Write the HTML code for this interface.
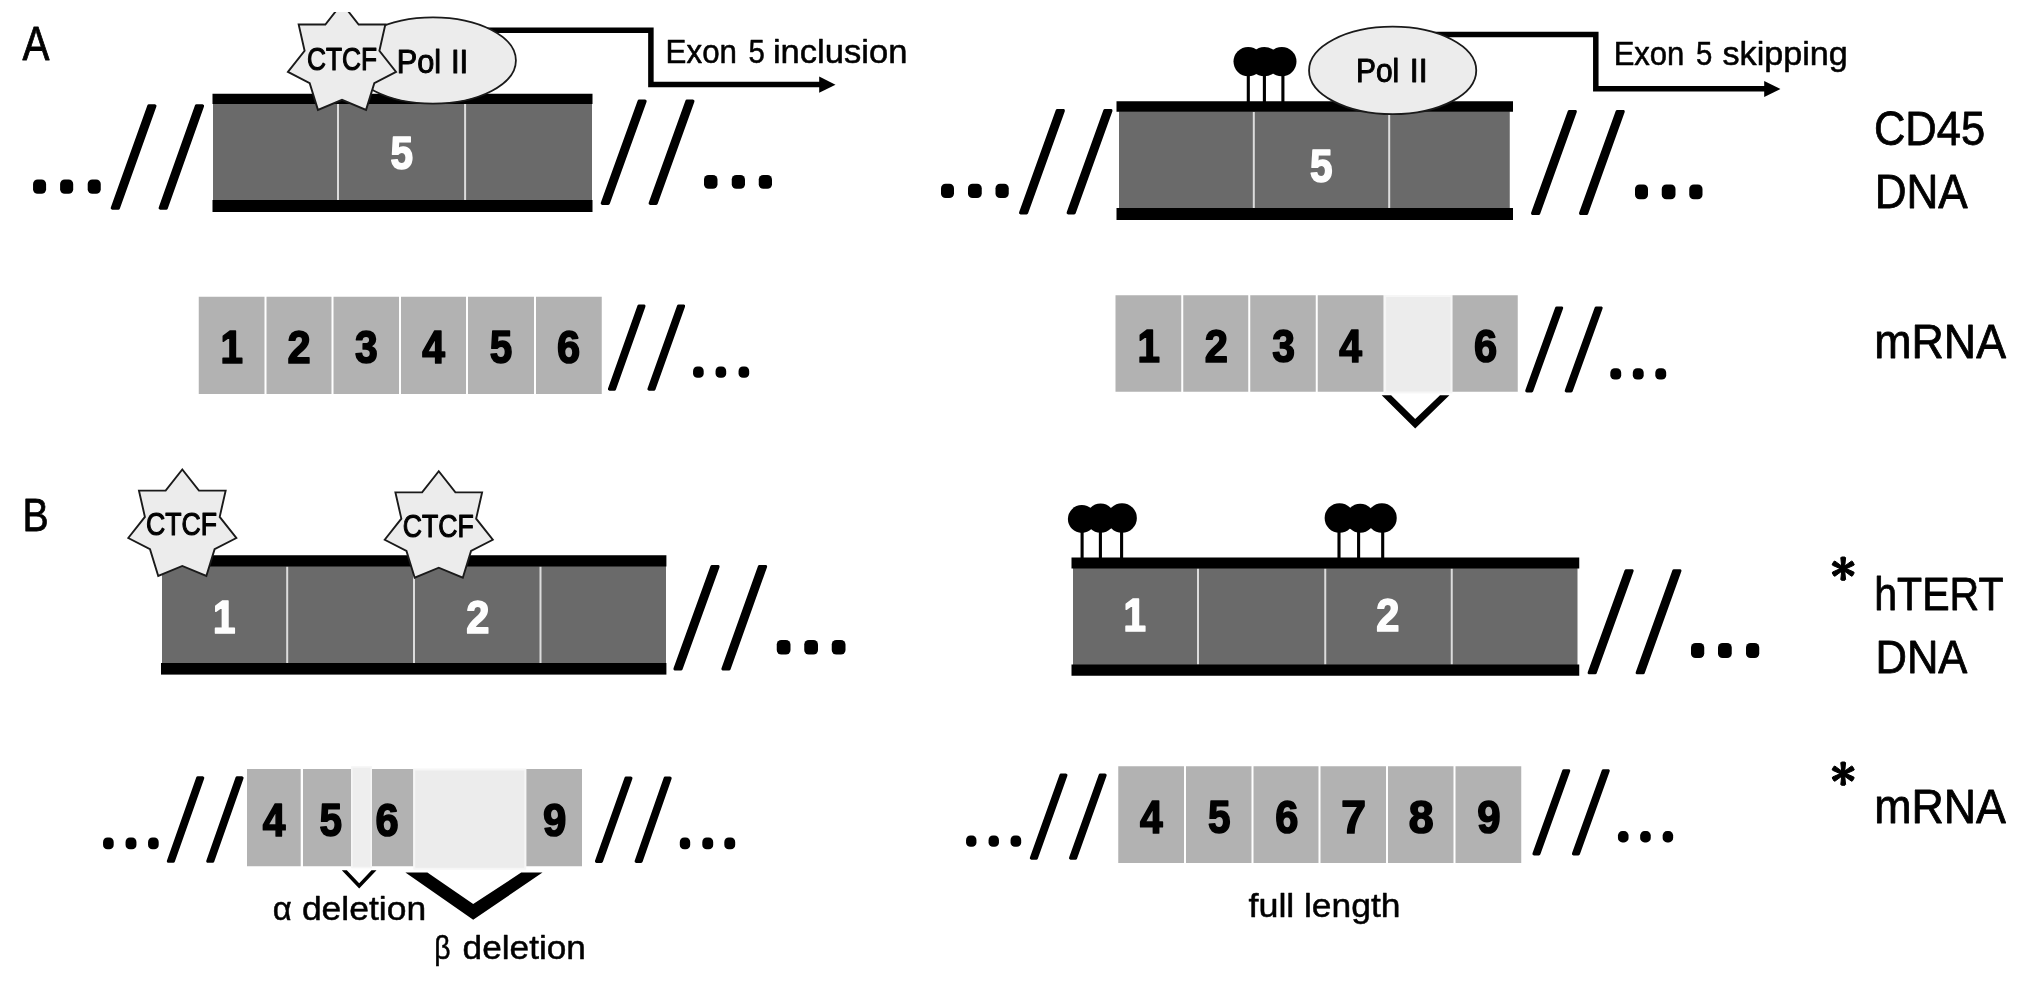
<!DOCTYPE html>
<html><head><meta charset="utf-8"><title>Figure</title>
<style>
html,body{margin:0;padding:0;background:#fff;}
svg{display:block;font-family:'Liberation Sans', sans-serif;}
</style></head><body>
<svg width="2031" height="983" viewBox="0 0 2031 983" font-family="'Liberation Sans', sans-serif">
<rect x="0" y="0" width="2031" height="983" fill="#fff"/>
<rect x="213.00" y="103.50" width="379.00" height="97.00" fill="#6a6a6a" />
<rect x="337.00" y="104.00" width="2.00" height="96.00" fill="#dcdcdc" />
<rect x="464.10" y="104.00" width="2.00" height="96.00" fill="#dcdcdc" />
<rect x="212.50" y="93.75" width="380.00" height="10.25" fill="#000" />
<rect x="212.50" y="200.00" width="380.00" height="12.00" fill="#000" />
<polygon points="112.30,208.10 118.30,208.10 154.90,105.90 148.90,105.90" fill="#000" stroke="#000" stroke-width="3.2" stroke-linejoin="round"/>
<polygon points="160.20,208.10 166.20,208.10 202.50,105.90 196.50,105.90" fill="#000" stroke="#000" stroke-width="3.2" stroke-linejoin="round"/>
<polygon points="602.30,203.30 608.30,203.30 645.10,101.20 639.10,101.20" fill="#000" stroke="#000" stroke-width="3.2" stroke-linejoin="round"/>
<polygon points="650.20,203.30 656.20,203.30 692.90,101.20 686.90,101.20" fill="#000" stroke="#000" stroke-width="3.2" stroke-linejoin="round"/>
<rect x="33.05" y="179.50" width="13.05" height="14.30" rx="4.6" ry="4.6" fill="#000"/>
<rect x="60.10" y="179.50" width="13.10" height="14.30" rx="4.6" ry="4.6" fill="#000"/>
<rect x="87.70" y="179.50" width="13.05" height="14.30" rx="4.6" ry="4.6" fill="#000"/>
<rect x="704.00" y="175.00" width="13.50" height="13.75" rx="4.6" ry="4.6" fill="#000"/>
<rect x="731.75" y="175.00" width="13.25" height="13.75" rx="4.6" ry="4.6" fill="#000"/>
<rect x="758.75" y="175.00" width="13.25" height="13.75" rx="4.6" ry="4.6" fill="#000"/>
<path d="M470 30.3 H650.9 V84.5 H822" fill="none" stroke="#000" stroke-width="5.5" stroke-linejoin="miter"/>
<polygon points="819.20,76.60 835.50,84.65 819.20,92.70" fill="#000"/>
<ellipse cx="433" cy="60.45" rx="82.9" ry="43.15" fill="#ececec" stroke="#1a1a1a" stroke-width="1.8"/>
<clipPath id="cA"><rect x="0" y="12" width="2031" height="971"/></clipPath>
<polygon points="287.95,71.89 304.60,50.80 298.66,24.49 325.35,24.49 342.00,3.40 358.65,24.49 385.34,24.49 379.40,50.80 396.05,71.89 374.30,83.10 366.05,109.90 342.00,99.89 317.95,109.90 309.70,83.10" fill="#ececec" stroke="#1a1a1a" stroke-width="1.9" stroke-linejoin="miter" clip-path="url(#cA)"/>
<rect x="198.75" y="296.75" width="403.00" height="97.25" fill="#b2b2b2" />
<rect x="264.50" y="296.00" width="2.00" height="99.00" fill="#fff" />
<rect x="331.50" y="296.00" width="2.00" height="99.00" fill="#fff" />
<rect x="399.00" y="296.00" width="2.00" height="99.00" fill="#fff" />
<rect x="466.00" y="296.00" width="2.00" height="99.00" fill="#fff" />
<rect x="534.00" y="296.00" width="2.00" height="99.00" fill="#fff" />
<polygon points="609.50,389.10 614.40,389.10 643.90,306.10 639.00,306.10" fill="#000" stroke="#000" stroke-width="3.2" stroke-linejoin="round"/>
<polygon points="649.00,389.10 653.90,389.10 683.50,306.10 678.60,306.10" fill="#000" stroke="#000" stroke-width="3.2" stroke-linejoin="round"/>
<rect x="693.05" y="366.50" width="10.65" height="11.30" rx="4.4" ry="4.4" fill="#000"/>
<rect x="715.55" y="366.50" width="10.65" height="11.30" rx="4.4" ry="4.4" fill="#000"/>
<rect x="738.55" y="366.50" width="10.65" height="11.30" rx="4.4" ry="4.4" fill="#000"/>
<rect x="1119.00" y="111.25" width="390.75" height="97.25" fill="#6a6a6a" />
<rect x="1252.80" y="111.75" width="2.00" height="96.25" fill="#dcdcdc" />
<rect x="1388.20" y="111.75" width="2.00" height="96.25" fill="#dcdcdc" />
<rect x="1116.50" y="101.25" width="396.50" height="10.50" fill="#000" />
<rect x="1116.50" y="208.00" width="396.50" height="12.00" fill="#000" />
<polygon points="1020.60,212.80 1026.60,212.80 1063.30,110.60 1057.30,110.60" fill="#000" stroke="#000" stroke-width="3.2" stroke-linejoin="round"/>
<polygon points="1068.20,212.80 1074.20,212.80 1110.90,110.60 1104.90,110.60" fill="#000" stroke="#000" stroke-width="3.2" stroke-linejoin="round"/>
<polygon points="1532.60,213.40 1538.60,213.40 1575.30,111.50 1569.30,111.50" fill="#000" stroke="#000" stroke-width="3.2" stroke-linejoin="round"/>
<polygon points="1580.60,213.40 1586.60,213.40 1623.20,111.50 1617.20,111.50" fill="#000" stroke="#000" stroke-width="3.2" stroke-linejoin="round"/>
<rect x="941.00" y="183.75" width="13.00" height="14.25" rx="4.6" ry="4.6" fill="#000"/>
<rect x="968.00" y="183.75" width="13.75" height="14.25" rx="4.6" ry="4.6" fill="#000"/>
<rect x="995.50" y="183.75" width="13.25" height="14.25" rx="4.6" ry="4.6" fill="#000"/>
<rect x="1635.00" y="184.50" width="13.00" height="14.75" rx="4.6" ry="4.6" fill="#000"/>
<rect x="1661.75" y="184.50" width="13.75" height="14.75" rx="4.6" ry="4.6" fill="#000"/>
<rect x="1689.25" y="184.50" width="13.25" height="14.75" rx="4.6" ry="4.6" fill="#000"/>
<rect x="1246.75" y="61.60" width="3.1" height="41.40" fill="#000"/>
<rect x="1262.85" y="61.60" width="3.1" height="41.40" fill="#000"/>
<rect x="1281.35" y="61.60" width="3.1" height="41.40" fill="#000"/>
<circle cx="1248.20" cy="61.60" r="14.7" fill="#000"/>
<circle cx="1264.40" cy="61.60" r="14.7" fill="#000"/>
<circle cx="1281.80" cy="61.60" r="14.7" fill="#000"/>
<path d="M1430 34.4 H1595.8 V88.8 H1766" fill="none" stroke="#000" stroke-width="5.5" stroke-linejoin="miter"/>
<polygon points="1764.20,81.00 1780.40,89.00 1764.20,97.10" fill="#000"/>
<ellipse cx="1392.65" cy="70.45" rx="83.6" ry="43.75" fill="#ececec" stroke="#1a1a1a" stroke-width="1.8"/>
<rect x="1115.50" y="295.25" width="268.00" height="96.50" fill="#b2b2b2" />
<rect x="1452.25" y="295.25" width="65.50" height="96.50" fill="#b2b2b2" />
<rect x="1181.25" y="294.50" width="2.00" height="98.00" fill="#fff" />
<rect x="1248.25" y="294.50" width="2.00" height="98.00" fill="#fff" />
<rect x="1315.75" y="294.50" width="2.00" height="98.00" fill="#fff" />
<rect x="1385.20" y="296.00" width="66.20" height="96.40" fill="#ececec" stroke="#f6f6f6" stroke-width="2"/>
<polygon points="1381.70,395.30 1415.20,428.50 1449.40,395.30 1440.00,395.30 1415.20,419.10 1391.10,395.30" fill="#000"/>
<polygon points="1526.80,390.80 1531.70,390.80 1561.60,308.00 1556.70,308.00" fill="#000" stroke="#000" stroke-width="3.2" stroke-linejoin="round"/>
<polygon points="1566.30,390.80 1571.20,390.80 1601.10,308.00 1596.20,308.00" fill="#000" stroke="#000" stroke-width="3.2" stroke-linejoin="round"/>
<rect x="1610.30" y="368.25" width="10.90" height="11.30" rx="4.4" ry="4.4" fill="#000"/>
<rect x="1632.80" y="368.25" width="10.90" height="11.30" rx="4.4" ry="4.4" fill="#000"/>
<rect x="1655.30" y="368.25" width="10.90" height="11.30" rx="4.4" ry="4.4" fill="#000"/>
<rect x="162.00" y="566.00" width="504.00" height="97.50" fill="#6a6a6a" />
<rect x="286.20" y="566.50" width="2.00" height="96.50" fill="#dcdcdc" />
<rect x="413.00" y="566.50" width="2.00" height="96.50" fill="#dcdcdc" />
<rect x="539.50" y="566.50" width="2.00" height="96.50" fill="#dcdcdc" />
<rect x="161.00" y="555.25" width="505.40" height="11.25" fill="#000" />
<rect x="161.00" y="663.00" width="505.40" height="11.60" fill="#000" />
<polygon points="128.25,537.99 144.90,516.90 138.96,490.59 165.65,490.59 182.30,469.50 198.95,490.59 225.64,490.59 219.70,516.90 236.35,537.99 214.60,549.20 206.35,576.00 182.30,565.99 158.25,576.00 150.00,549.20" fill="#ececec" stroke="#1a1a1a" stroke-width="1.9" stroke-linejoin="miter"/>
<polygon points="384.70,539.74 401.35,518.65 395.41,492.34 422.10,492.34 438.75,471.25 455.40,492.34 482.09,492.34 476.15,518.65 492.80,539.74 471.05,550.95 462.80,577.75 438.75,567.74 414.70,577.75 406.45,550.95" fill="#ececec" stroke="#1a1a1a" stroke-width="1.9" stroke-linejoin="miter"/>
<polygon points="675.00,668.90 681.00,668.90 718.00,566.60 712.00,566.60" fill="#000" stroke="#000" stroke-width="3.2" stroke-linejoin="round"/>
<polygon points="723.00,668.90 729.00,668.90 765.50,566.60 759.50,566.60" fill="#000" stroke="#000" stroke-width="3.2" stroke-linejoin="round"/>
<rect x="776.75" y="640.00" width="13.75" height="14.50" rx="4.6" ry="4.6" fill="#000"/>
<rect x="804.25" y="640.00" width="13.75" height="14.50" rx="4.6" ry="4.6" fill="#000"/>
<rect x="831.75" y="640.00" width="13.75" height="14.50" rx="4.6" ry="4.6" fill="#000"/>
<rect x="247.00" y="769.00" width="53.70" height="97.25" fill="#b2b2b2" />
<rect x="303.00" y="769.00" width="48.00" height="97.25" fill="#b2b2b2" />
<rect x="371.80" y="769.00" width="41.50" height="97.25" fill="#b2b2b2" />
<rect x="526.25" y="769.00" width="55.75" height="97.25" fill="#b2b2b2" />
<rect x="351.90" y="767.00" width="19.30" height="100.50" fill="#eeeeee" stroke="#f6f6f6" stroke-width="1.6"/>
<rect x="414.30" y="769.50" width="110.90" height="99.20" fill="#ececec" stroke="#f6f6f6" stroke-width="2"/>
<polygon points="341.80,870.30 359.20,888.50 376.50,870.30 371.50,870.30 359.20,883.30 346.80,870.30" fill="#000"/>
<polygon points="405.40,872.55 473.20,919.70 542.50,872.55 521.20,872.55 473.20,904.00 427.40,872.55" fill="#000"/>
<polygon points="168.40,861.20 173.30,861.20 202.70,777.90 197.80,777.90" fill="#000" stroke="#000" stroke-width="3.2" stroke-linejoin="round"/>
<polygon points="207.80,861.20 212.70,861.20 242.00,777.90 237.10,777.90" fill="#000" stroke="#000" stroke-width="3.2" stroke-linejoin="round"/>
<polygon points="596.50,861.30 601.40,861.30 630.90,778.20 626.00,778.20" fill="#000" stroke="#000" stroke-width="3.2" stroke-linejoin="round"/>
<polygon points="636.20,861.30 641.10,861.30 670.10,778.20 665.20,778.20" fill="#000" stroke="#000" stroke-width="3.2" stroke-linejoin="round"/>
<rect x="103.05" y="837.50" width="10.65" height="11.80" rx="4.4" ry="4.4" fill="#000"/>
<rect x="125.55" y="837.50" width="10.90" height="11.80" rx="4.4" ry="4.4" fill="#000"/>
<rect x="148.05" y="837.50" width="10.65" height="11.80" rx="4.4" ry="4.4" fill="#000"/>
<rect x="679.80" y="837.50" width="10.40" height="11.80" rx="4.4" ry="4.4" fill="#000"/>
<rect x="702.30" y="837.50" width="10.90" height="11.80" rx="4.4" ry="4.4" fill="#000"/>
<rect x="724.30" y="837.50" width="10.90" height="11.80" rx="4.4" ry="4.4" fill="#000"/>
<rect x="1073.00" y="568.00" width="504.50" height="97.00" fill="#6a6a6a" />
<rect x="1197.00" y="568.50" width="2.00" height="96.00" fill="#dcdcdc" />
<rect x="1324.25" y="568.50" width="2.00" height="96.00" fill="#dcdcdc" />
<rect x="1450.75" y="568.50" width="2.00" height="96.00" fill="#dcdcdc" />
<rect x="1071.50" y="557.50" width="507.75" height="11.00" fill="#000" />
<rect x="1071.50" y="664.50" width="507.75" height="11.25" fill="#000" />
<rect x="1080.55" y="518.00" width="3.1" height="41.00" fill="#000"/>
<rect x="1098.85" y="518.00" width="3.1" height="41.00" fill="#000"/>
<rect x="1120.05" y="518.00" width="3.1" height="41.00" fill="#000"/>
<circle cx="1081.80" cy="519.00" r="13.9" fill="#000"/>
<circle cx="1100.60" cy="518.20" r="14.6" fill="#000"/>
<circle cx="1122.00" cy="518.00" r="14.85" fill="#000"/>
<rect x="1337.45" y="518.00" width="3.1" height="41.00" fill="#000"/>
<rect x="1357.05" y="518.00" width="3.1" height="41.00" fill="#000"/>
<rect x="1381.15" y="518.00" width="3.1" height="41.00" fill="#000"/>
<circle cx="1339.50" cy="518.00" r="14.85" fill="#000"/>
<circle cx="1360.20" cy="518.30" r="14.5" fill="#000"/>
<circle cx="1381.90" cy="518.00" r="14.85" fill="#000"/>
<polygon points="1589.20,672.70 1595.20,672.70 1632.10,570.80 1626.10,570.80" fill="#000" stroke="#000" stroke-width="3.2" stroke-linejoin="round"/>
<polygon points="1637.20,672.70 1643.20,672.70 1679.90,570.80 1673.90,570.80" fill="#000" stroke="#000" stroke-width="3.2" stroke-linejoin="round"/>
<rect x="1691.00" y="643.00" width="13.25" height="15.00" rx="4.6" ry="4.6" fill="#000"/>
<rect x="1718.00" y="643.00" width="13.75" height="15.00" rx="4.6" ry="4.6" fill="#000"/>
<rect x="1746.00" y="643.00" width="13.25" height="15.00" rx="4.6" ry="4.6" fill="#000"/>
<polygon points="1842.00,569.15 1840.80,557.80 1841.50,557.00 1844.90,557.00 1845.60,557.80 1844.40,569.15" fill="#000" stroke="#000" stroke-width="1" stroke-linejoin="round"/>
<polygon points="1842.17,567.86 1851.40,561.15 1852.44,561.35 1854.14,564.30 1853.80,565.30 1843.37,569.94" fill="#000" stroke="#000" stroke-width="1" stroke-linejoin="round"/>
<polygon points="1843.37,567.36 1853.80,572.00 1854.14,573.00 1852.44,575.95 1851.40,576.15 1842.17,569.44" fill="#000" stroke="#000" stroke-width="1" stroke-linejoin="round"/>
<polygon points="1844.40,568.15 1845.60,579.50 1844.90,580.30 1841.50,580.30 1840.80,579.50 1842.00,568.15" fill="#000" stroke="#000" stroke-width="1" stroke-linejoin="round"/>
<polygon points="1844.23,569.44 1835.00,576.15 1833.96,575.95 1832.26,573.00 1832.60,572.00 1843.03,567.36" fill="#000" stroke="#000" stroke-width="1" stroke-linejoin="round"/>
<polygon points="1843.03,569.94 1832.60,565.30 1832.26,564.30 1833.96,561.35 1835.00,561.15 1844.23,567.86" fill="#000" stroke="#000" stroke-width="1" stroke-linejoin="round"/>
<circle cx="1843.20" cy="568.65" r="3.2" fill="#000"/>
<polygon points="1842.00,774.15 1840.80,762.80 1841.50,762.00 1844.90,762.00 1845.60,762.80 1844.40,774.15" fill="#000" stroke="#000" stroke-width="1" stroke-linejoin="round"/>
<polygon points="1842.17,772.86 1851.40,766.15 1852.44,766.35 1854.14,769.30 1853.80,770.30 1843.37,774.94" fill="#000" stroke="#000" stroke-width="1" stroke-linejoin="round"/>
<polygon points="1843.37,772.36 1853.80,777.00 1854.14,778.00 1852.44,780.95 1851.40,781.15 1842.17,774.44" fill="#000" stroke="#000" stroke-width="1" stroke-linejoin="round"/>
<polygon points="1844.40,773.15 1845.60,784.50 1844.90,785.30 1841.50,785.30 1840.80,784.50 1842.00,773.15" fill="#000" stroke="#000" stroke-width="1" stroke-linejoin="round"/>
<polygon points="1844.23,774.44 1835.00,781.15 1833.96,780.95 1832.26,778.00 1832.60,777.00 1843.03,772.36" fill="#000" stroke="#000" stroke-width="1" stroke-linejoin="round"/>
<polygon points="1843.03,774.94 1832.60,770.30 1832.26,769.30 1833.96,766.35 1835.00,766.15 1844.23,772.86" fill="#000" stroke="#000" stroke-width="1" stroke-linejoin="round"/>
<circle cx="1843.20" cy="773.65" r="3.2" fill="#000"/>
<rect x="1118.25" y="766.25" width="403.00" height="96.75" fill="#b2b2b2" />
<rect x="1184.00" y="765.50" width="2.00" height="98.50" fill="#fff" />
<rect x="1251.50" y="765.50" width="2.00" height="98.50" fill="#fff" />
<rect x="1318.50" y="765.50" width="2.00" height="98.50" fill="#fff" />
<rect x="1386.00" y="765.50" width="2.00" height="98.50" fill="#fff" />
<rect x="1453.50" y="765.50" width="2.00" height="98.50" fill="#fff" />
<polygon points="1031.40,858.10 1036.30,858.10 1065.90,775.20 1061.00,775.20" fill="#000" stroke="#000" stroke-width="3.2" stroke-linejoin="round"/>
<polygon points="1070.60,858.10 1075.50,858.10 1105.10,775.20 1100.20,775.20" fill="#000" stroke="#000" stroke-width="3.2" stroke-linejoin="round"/>
<polygon points="1534.00,853.80 1538.90,853.80 1568.70,770.80 1563.80,770.80" fill="#000" stroke="#000" stroke-width="3.2" stroke-linejoin="round"/>
<polygon points="1573.50,853.80 1578.40,853.80 1608.20,770.80 1603.30,770.80" fill="#000" stroke="#000" stroke-width="3.2" stroke-linejoin="round"/>
<rect x="966.05" y="835.50" width="10.40" height="11.30" rx="4.4" ry="4.4" fill="#000"/>
<rect x="988.55" y="835.50" width="10.40" height="11.30" rx="4.4" ry="4.4" fill="#000"/>
<rect x="1010.55" y="835.50" width="10.65" height="11.30" rx="4.4" ry="4.4" fill="#000"/>
<rect x="1617.95" y="831.10" width="10.60" height="11.30" rx="4.4" ry="4.4" fill="#000"/>
<rect x="1640.15" y="831.10" width="10.60" height="11.30" rx="4.4" ry="4.4" fill="#000"/>
<rect x="1662.65" y="831.10" width="10.50" height="11.30" rx="4.4" ry="4.4" fill="#000"/>
<g opacity="0.999">
<text transform="translate(390.39 168.65) scale(0.8625 1)" font-size="46.87" font-weight="bold" fill="#fff" stroke="#fff" stroke-width="1.7" stroke-linejoin="round">5</text>
<text transform="translate(306.99 69.90) scale(0.8133 1)" font-size="32.29" font-weight="normal" fill="#000" stroke="#000" stroke-width="1.2" stroke-linejoin="round">CTCF</text>
<text transform="translate(396.82 72.60) scale(0.9423 1)" font-size="32.57" font-weight="normal" fill="#000" stroke="#000" stroke-width="1.0" stroke-linejoin="round">Pol</text>
<text transform="translate(450.93 72.60) scale(0.9581 1)" font-size="32.57" font-weight="normal" fill="#000" stroke="#000" stroke-width="1.0" stroke-linejoin="round">II</text>
<text transform="translate(22.40 60.30) scale(0.8394 1)" font-size="48.16" font-weight="normal" fill="#000" stroke="#000" stroke-width="0.8" stroke-linejoin="round">A</text>
<text transform="translate(665.61 63.12) scale(0.9319 1)" font-size="33.61" font-weight="normal" fill="#000" stroke="#000" stroke-width="0.55" stroke-linejoin="round">Exon</text>
<text transform="translate(748.50 63.12) scale(0.8735 1)" font-size="33.61" font-weight="normal" fill="#000" stroke="#000" stroke-width="0.55" stroke-linejoin="round">5</text>
<text transform="translate(772.92 63.12) scale(1.0288 1)" font-size="33.61" font-weight="normal" fill="#000" stroke="#000" stroke-width="0.55" stroke-linejoin="round">inclusion</text>
<text transform="translate(220.48 363.35) scale(0.8609 1)" font-size="46.87" font-weight="bold" fill="#000" stroke="#000" stroke-width="1.7" stroke-linejoin="round">1</text>
<text transform="translate(287.46 363.35) scale(0.8875 1)" font-size="46.87" font-weight="bold" fill="#000" stroke="#000" stroke-width="1.7" stroke-linejoin="round">2</text>
<text transform="translate(354.88 363.35) scale(0.8708 1)" font-size="46.87" font-weight="bold" fill="#000" stroke="#000" stroke-width="1.7" stroke-linejoin="round">3</text>
<text transform="translate(422.20 363.35) scale(0.8692 1)" font-size="46.87" font-weight="bold" fill="#000" stroke="#000" stroke-width="1.7" stroke-linejoin="round">4</text>
<text transform="translate(489.79 363.35) scale(0.8625 1)" font-size="46.87" font-weight="bold" fill="#000" stroke="#000" stroke-width="1.7" stroke-linejoin="round">5</text>
<text transform="translate(556.96 363.35) scale(0.8875 1)" font-size="46.87" font-weight="bold" fill="#000" stroke="#000" stroke-width="1.7" stroke-linejoin="round">6</text>
<text transform="translate(1310.09 182.35) scale(0.8625 1)" font-size="46.87" font-weight="bold" fill="#fff" stroke="#fff" stroke-width="1.7" stroke-linejoin="round">5</text>
<text transform="translate(1355.99 81.60) scale(0.9069 1)" font-size="32.97" font-weight="normal" fill="#000" stroke="#000" stroke-width="1.0" stroke-linejoin="round">Pol</text>
<text transform="translate(1409.78 81.60) scale(0.9727 1)" font-size="32.97" font-weight="normal" fill="#000" stroke="#000" stroke-width="1.0" stroke-linejoin="round">II</text>
<text transform="translate(1613.63 64.82) scale(0.9237 1)" font-size="33.61" font-weight="normal" fill="#000" stroke="#000" stroke-width="0.55" stroke-linejoin="round">Exon</text>
<text transform="translate(1695.90 64.82) scale(0.8735 1)" font-size="33.61" font-weight="normal" fill="#000" stroke="#000" stroke-width="0.55" stroke-linejoin="round">5</text>
<text transform="translate(1722.48 64.82) scale(1.0167 1)" font-size="33.61" font-weight="normal" fill="#000" stroke="#000" stroke-width="0.55" stroke-linejoin="round">skipping</text>
<text transform="translate(1873.90 145.40) scale(0.8989 1)" font-size="48.46" font-weight="normal" fill="#000" stroke="#000" stroke-width="0.8" stroke-linejoin="round">CD45</text>
<text transform="translate(1874.70 208.20) scale(0.9327 1)" font-size="47.26" font-weight="normal" fill="#000" stroke="#000" stroke-width="0.8" stroke-linejoin="round">DNA</text>
<text transform="translate(1874.36 358.40) scale(0.9480 1)" font-size="47.16" font-weight="normal" fill="#000" stroke="#000" stroke-width="0.8" stroke-linejoin="round">mRNA</text>
<text transform="translate(1137.43 361.95) scale(0.8609 1)" font-size="46.87" font-weight="bold" fill="#000" stroke="#000" stroke-width="1.7" stroke-linejoin="round">1</text>
<text transform="translate(1204.71 361.95) scale(0.8875 1)" font-size="46.87" font-weight="bold" fill="#000" stroke="#000" stroke-width="1.7" stroke-linejoin="round">2</text>
<text transform="translate(1272.13 361.95) scale(0.8708 1)" font-size="46.87" font-weight="bold" fill="#000" stroke="#000" stroke-width="1.7" stroke-linejoin="round">3</text>
<text transform="translate(1339.30 361.95) scale(0.8692 1)" font-size="46.87" font-weight="bold" fill="#000" stroke="#000" stroke-width="1.7" stroke-linejoin="round">4</text>
<text transform="translate(1474.06 361.95) scale(0.8875 1)" font-size="46.87" font-weight="bold" fill="#000" stroke="#000" stroke-width="1.7" stroke-linejoin="round">6</text>
<text transform="translate(212.98 632.75) scale(0.8609 1)" font-size="46.87" font-weight="bold" fill="#fff" stroke="#fff" stroke-width="1.7" stroke-linejoin="round">1</text>
<text transform="translate(466.16 632.75) scale(0.8875 1)" font-size="46.87" font-weight="bold" fill="#fff" stroke="#fff" stroke-width="1.7" stroke-linejoin="round">2</text>
<text transform="translate(146.03 534.90) scale(0.8246 1)" font-size="32.29" font-weight="normal" fill="#000" stroke="#000" stroke-width="1.2" stroke-linejoin="round">CTCF</text>
<text transform="translate(402.78 536.90) scale(0.8246 1)" font-size="32.29" font-weight="normal" fill="#000" stroke="#000" stroke-width="1.2" stroke-linejoin="round">CTCF</text>
<text transform="translate(22.57 530.80) scale(0.8423 1)" font-size="46.66" font-weight="normal" fill="#000" stroke="#000" stroke-width="0.8" stroke-linejoin="round">B</text>
<text transform="translate(262.70 836.05) scale(0.8692 1)" font-size="46.87" font-weight="bold" fill="#000" stroke="#000" stroke-width="1.7" stroke-linejoin="round">4</text>
<text transform="translate(319.39 836.05) scale(0.8625 1)" font-size="46.87" font-weight="bold" fill="#000" stroke="#000" stroke-width="1.7" stroke-linejoin="round">5</text>
<text transform="translate(375.41 836.05) scale(0.8875 1)" font-size="46.87" font-weight="bold" fill="#000" stroke="#000" stroke-width="1.7" stroke-linejoin="round">6</text>
<text transform="translate(542.95 836.05) scale(0.8958 1)" font-size="46.87" font-weight="bold" fill="#000" stroke="#000" stroke-width="1.7" stroke-linejoin="round">9</text>
<text transform="translate(272.66 919.65) scale(0.9944 1)" font-size="33.09" font-weight="normal" fill="#000" stroke="#000" stroke-width="0.5" stroke-linejoin="round">α</text>
<text transform="translate(301.88 919.65) scale(1.0725 1)" font-size="33.09" font-weight="normal" fill="#000" stroke="#000" stroke-width="0.5" stroke-linejoin="round">deletion</text>
<text transform="translate(434.34 959.35) scale(0.8562 1)" font-size="33.09" font-weight="normal" fill="#000" stroke="#000" stroke-width="0.5" stroke-linejoin="round">β</text>
<text transform="translate(462.59 959.35) scale(1.0646 1)" font-size="33.09" font-weight="normal" fill="#000" stroke="#000" stroke-width="0.5" stroke-linejoin="round">deletion</text>
<text transform="translate(1123.38 631.05) scale(0.8609 1)" font-size="46.87" font-weight="bold" fill="#fff" stroke="#fff" stroke-width="1.7" stroke-linejoin="round">1</text>
<text transform="translate(1376.21 631.05) scale(0.8875 1)" font-size="46.87" font-weight="bold" fill="#fff" stroke="#fff" stroke-width="1.7" stroke-linejoin="round">2</text>
<text transform="translate(1874.27 610.00) scale(0.8768 1)" font-size="46.86" font-weight="normal" fill="#000" stroke="#000" stroke-width="0.8" stroke-linejoin="round">hTERT</text>
<text transform="translate(1875.51 673.40) scale(0.9288 1)" font-size="46.86" font-weight="normal" fill="#000" stroke="#000" stroke-width="0.8" stroke-linejoin="round">DNA</text>
<text transform="translate(1874.25 823.40) scale(0.9487 1)" font-size="47.16" font-weight="normal" fill="#000" stroke="#000" stroke-width="0.8" stroke-linejoin="round">mRNA</text>
<text transform="translate(1139.90 833.35) scale(0.8692 1)" font-size="46.87" font-weight="bold" fill="#000" stroke="#000" stroke-width="1.7" stroke-linejoin="round">4</text>
<text transform="translate(1207.99 833.35) scale(0.8625 1)" font-size="46.87" font-weight="bold" fill="#000" stroke="#000" stroke-width="1.7" stroke-linejoin="round">5</text>
<text transform="translate(1275.36 833.35) scale(0.8875 1)" font-size="46.87" font-weight="bold" fill="#000" stroke="#000" stroke-width="1.7" stroke-linejoin="round">6</text>
<text transform="translate(1341.15 833.35) scale(0.9500 1)" font-size="46.87" font-weight="bold" fill="#000" stroke="#000" stroke-width="1.7" stroke-linejoin="round">7</text>
<text transform="translate(1408.80 833.35) scale(0.9542 1)" font-size="46.87" font-weight="bold" fill="#000" stroke="#000" stroke-width="1.7" stroke-linejoin="round">8</text>
<text transform="translate(1477.25 833.35) scale(0.8958 1)" font-size="46.87" font-weight="bold" fill="#000" stroke="#000" stroke-width="1.7" stroke-linejoin="round">9</text>
<text transform="translate(1248.45 917.05) scale(1.0659 1)" font-size="33.69" font-weight="normal" fill="#000" stroke="#000" stroke-width="0.5" stroke-linejoin="round">full</text>
<text transform="translate(1303.95 917.05) scale(1.0521 1)" font-size="33.69" font-weight="normal" fill="#000" stroke="#000" stroke-width="0.5" stroke-linejoin="round">length</text>
</g>
</svg>
</body></html>
